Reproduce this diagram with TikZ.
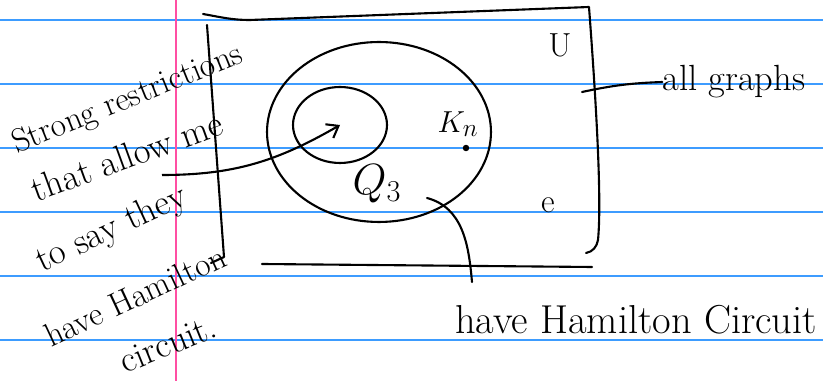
\documentclass[tikz,border=0pt]{standalone}
\usetikzlibrary{positioning, arrows.meta, shapes.geometric}
\definecolor{Linija}{HTML}{3D9CFF}
\definecolor{Margina}{HTML}{FF4FA3}
\tikzset{
  papir/.style   = {draw=Linija, line width=0.8pt},
  margina/.style = {draw=Margina, line width=1pt},
  okvir/.style   = {draw=black, line width=1.2pt, line cap=round, line join=round},
  skup/.style    = {ellipse, draw=black, line width=1.2pt, inner sep=0pt},
  rukopis/.style = {font=\fontsize{19}{22}\selectfont, inner sep=0pt},
  natpis/.style  = {font=\huge, inner sep=0pt},
  tok/.style     = {-{Straight Barb[length=6pt, width=9pt]}, line width=1.2pt},
  veza/.style    = {draw=black, line width=1.2pt, line cap=round},
  tacka/.style   = {circle, fill=black, inner sep=1.3pt},
}

\begin{document}
\begin{tikzpicture}[x=0.02cm, y=-0.02cm]
  \useasboundingbox (0,0) rectangle (823,381);
  % --- papir ---
  \foreach \y in {20,84,148,212,276,340}
    \draw[papir] (0,\y) -- (823,\y);
  \draw[margina] (176,0) -- (176,381);

  % --- okvir: svi grafovi ---
  \draw[okvir] (203,14) to[out=-10,in=180] (250,20) -- (589,7)
               .. controls (596,100) and (602,200) .. (598,240)
               to[out=-100,in=10] (586,253);
  \draw[okvir] (207,25) -- (224,257) -- (211,263);
  \draw[okvir] (262,264) -- (592,267);
  \node[rukopis] (u) at (560,45) {U};
  \node[rukopis] (e) at (548,205) {e};

  % --- skupovi ---
  \node[skup, minimum width=4.48cm, minimum height=3.6cm] at (379,132) (veliki) {};
  \node[skup, minimum width=1.88cm, minimum height=1.52cm] at (340,125) (mali) {};
  \node[rukopis] (kn) at (458,124) {$K_n$};
  \node[tacka] (tacka) at (466,148) {};
  \node[natpis, font=\fontsize{26}{30}\selectfont] (q3) at (377,184) {$Q_3$};

  % --- natpisi ---
  \node[natpis] (svi) at (734,82) {all graphs};
  \coordinate (sviPoc) at (582,92);
  \draw[veza] (sviPoc) to[bend left=5] (svi.west);

  \node[natpis, font=\fontsize{23}{27}\selectfont] (ham) at (636,320) {have Hamilton Circuit};
  \coordinate (hamPoc) at (427,198);
  \coordinate (hamKraj) at (472,282);
  \draw[veza] (hamPoc) to[out=-15,in=95] (hamKraj);

  % --- levo, ukoso ---
  \node[rukopis, rotate=22] (r1) at (128,100) {Strong restrictions};
  \node[natpis, rotate=20] (r2) at (127,156) {that allow me};
  \node[natpis, rotate=25] (r3) at (112,230) {to say they};
  \node[rukopis, rotate=25] (r4) at (135,296) {have Hamilton};
  \node[natpis, rotate=22] (r5) at (168,344) {circuit.};
  \coordinate (strPoc) at (162,175);
  \draw[tok] (strPoc) to[out=0,in=-150] (mali.center);
\end{tikzpicture}
\end{document}
